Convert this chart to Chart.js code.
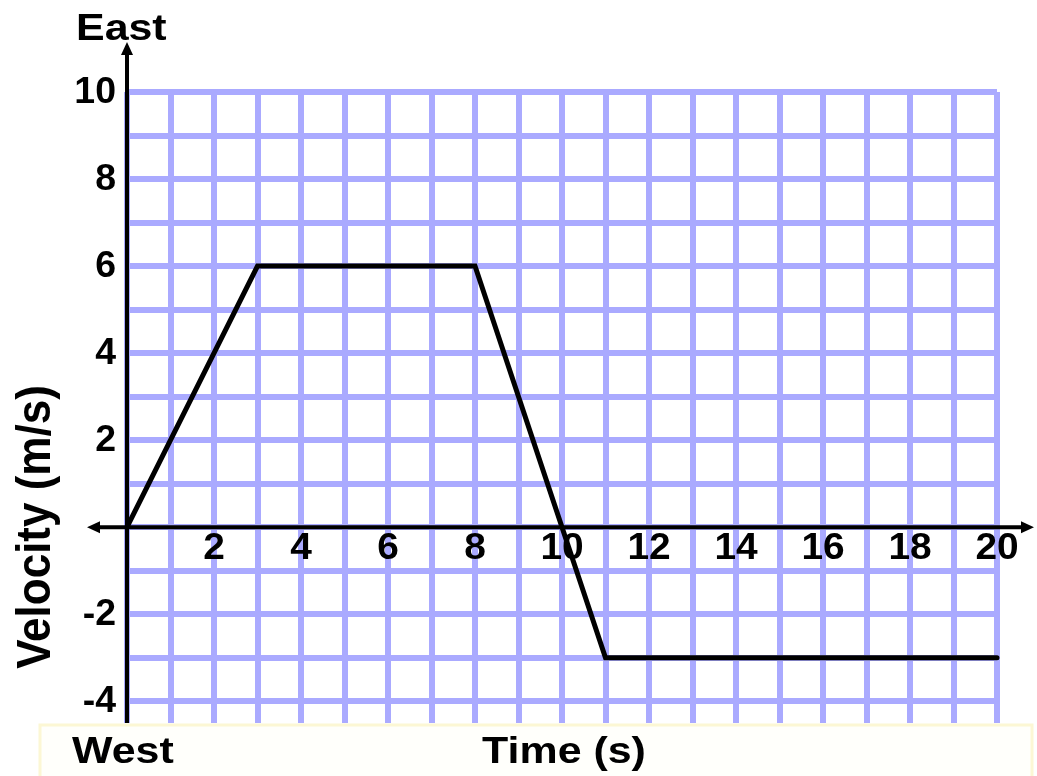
<!DOCTYPE html>
<html>
<head>
<meta charset="utf-8">
<script src="https://cdn.jsdelivr.net/npm/chart.js@4.4.1/dist/chart.umd.min.js"></script>
<style>
  html, body { margin: 0; padding: 0; background: #ffffff; }
  #wrap { width: 1037px; height: 776px; position: relative; }
</style>
</head>
<body>
<div id="wrap"><canvas id="velocityChart" width="1037" height="776"></canvas></div>
<script>
// velocity-time data
const timeValues = [0, 3, 8, 11, 20];
const velocityValues = [0, 6, 6, -3, -3];

// tick labels
const xTickLabels = [2, 4, 6, 8, 10, 12, 14, 16, 18, 20];
const yTickLabels = [10, 8, 6, 4, 2, -2, -4];

const xMin = 0, xMax = 20;
const yMin = -4.5, yMax = 10;

const LABEL_FONT = 'bold 37px "Liberation Sans", Arial, sans-serif';
const TICK_FONT = 'bold 36px "Liberation Sans", Arial, sans-serif';
const TEXT_STRETCH = 1.16; // the original text looks a bit wide

function arrowHead(ctx, x, y, dir) {
    // dir: 'up', 'left', 'right'
    ctx.beginPath();
    if (dir === 'up') {
        ctx.moveTo(x, y);
        ctx.lineTo(x - 6, y + 13);
        ctx.lineTo(x + 6, y + 13);
    } else if (dir === 'left') {
        ctx.moveTo(x, y);
        ctx.lineTo(x + 13, y - 6);
        ctx.lineTo(x + 13, y + 6);
    } else {
        ctx.moveTo(x, y);
        ctx.lineTo(x - 13, y - 6);
        ctx.lineTo(x - 13, y + 6);
    }
    ctx.closePath();
    ctx.fill();
}

function wideText(ctx, text, x, y, sx) {
    ctx.save();
    ctx.translate(x, y);
    ctx.scale(sx, 1);
    ctx.fillText(text, 0, 0);
    ctx.restore();
}

// draws axes with arrows, tick labels and the texts round the plot
const axesPlugin = {
    id: 'axesPlugin',
    beforeDatasetsDraw(chart) {
        const ctx = chart.ctx;
        const xs = chart.scales.x;
        const ys = chart.scales.y;
        const x0 = xs.getPixelForValue(0);
        const y0 = ys.getPixelForValue(0);
        const area = chart.chartArea;

        ctx.save();
        // bottom note box
        ctx.fillStyle = '#fffffb';
        ctx.fillRect(40, area.bottom + 2, 992, 60);
        ctx.strokeStyle = '#fcf7d4';
        ctx.lineWidth = 3;
        ctx.strokeRect(40, area.bottom + 2, 992, 60);

        ctx.strokeStyle = '#000';
        ctx.fillStyle = '#000';
        ctx.lineWidth = 4;
        // y axis
        ctx.beginPath();
        ctx.moveTo(x0, area.bottom);
        ctx.lineTo(x0, 52);
        ctx.stroke();
        arrowHead(ctx, x0, 42, 'up');
        // x axis
        ctx.beginPath();
        ctx.moveTo(96, y0);
        ctx.lineTo(1024, y0);
        ctx.stroke();
        arrowHead(ctx, 87, y0, 'left');
        arrowHead(ctx, 1034, y0, 'right');

        // y tick labels
        ctx.font = TICK_FONT;
        ctx.textAlign = 'right';
        ctx.textBaseline = 'middle';
        yTickLabels.forEach(v => {
            wideText(ctx, String(v), 116, ys.getPixelForValue(v) + 1, 1.04);
        });
        // x tick labels
        ctx.textAlign = 'center';
        xTickLabels.forEach(v => {
            wideText(ctx, String(v), xs.getPixelForValue(v), y0 + 22, 1.08);
        });

        // texts
        ctx.font = LABEL_FONT;
        ctx.textAlign = 'left';
        ctx.textBaseline = 'alphabetic';
        wideText(ctx, 'East', 76, 40, TEXT_STRETCH);
        wideText(ctx, 'West', 72, 763, TEXT_STRETCH);
        ctx.textAlign = 'center';
        wideText(ctx, 'Time (s)', 564, 763, TEXT_STRETCH);

        ctx.translate(50, 527);
        ctx.scale(1.1, 1);
        ctx.rotate(-Math.PI / 2);
        ctx.font = 'bold 44px "Liberation Sans", Arial, sans-serif';
        ctx.fillText('Velocity (m/s)', 0, 0);
        ctx.restore();
    }
};

function gridColor(c) {
    const v = c.tick ? c.tick.value : 0;
    return Number.isInteger(v) ? '#aaaaff' : 'rgba(0,0,0,0)';
}

const chart = new Chart(document.getElementById('velocityChart'), {
    type: 'scatter',
    data: {
        datasets: [{
            data: timeValues.map((t, i) => ({ x: t, y: velocityValues[i] })),
            showLine: true,
            borderColor: '#000000',
            borderWidth: 5,
            borderCapStyle: 'round',
            borderJoinStyle: 'miter',
            pointRadius: 0,
            fill: false,
            clip: false
        }]
    },
    options: {
        responsive: false,
        animation: false,
        devicePixelRatio: 1,
        layout: { padding: { left: 127, top: 92, right: 40, bottom: 53 } },
        plugins: { legend: { display: false }, tooltip: { enabled: false } },
        scales: {
            x: {
                type: 'linear',
                min: xMin,
                max: xMax,
                ticks: { display: false, stepSize: 1 },
                grid: { color: gridColor, lineWidth: 6, drawTicks: false },
                border: { display: false }
            },
            y: {
                type: 'linear',
                min: yMin,
                max: yMax,
                ticks: { display: false, stepSize: 1 },
                grid: { color: gridColor, lineWidth: 6, drawTicks: false },
                border: { display: false }
            }
        }
    },
    plugins: [axesPlugin]
});
</script>
</body>
</html>
